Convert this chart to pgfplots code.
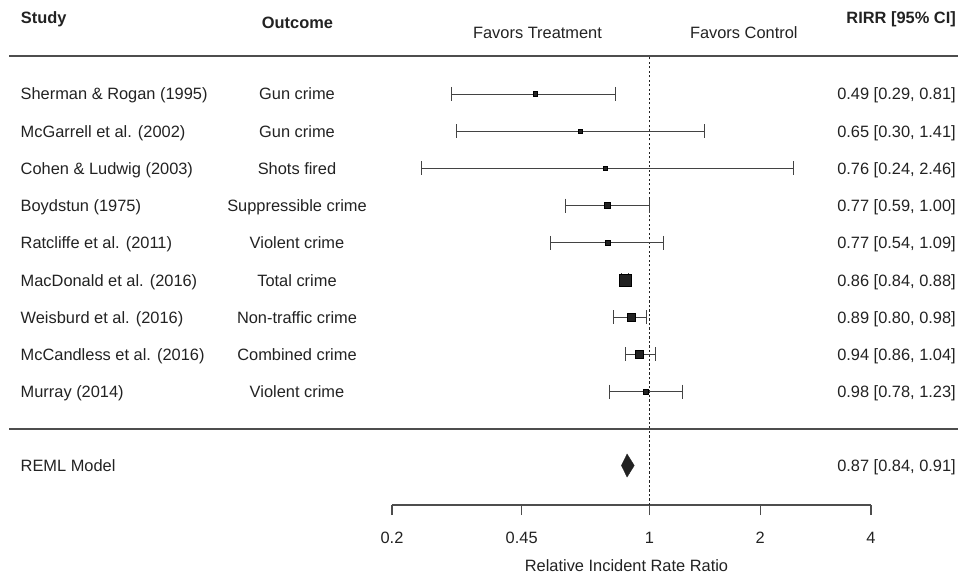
\documentclass[border=0pt]{standalone}
\usepackage{fontspec}
\setmainfont{Liberation Sans}
\usepackage{pgfplots}
\pgfplotsset{compat=1.18}
\definecolor{ink}{HTML}{222222}
\definecolor{rulec}{HTML}{4D4D4D}
\newcommand{\fs}{\fontsize{16.4}{19}\selectfont}
\begin{document}
\begin{tikzpicture}[
  txt/.style={font=\fs, inner sep=0pt, text=ink},
  stl/.style={txt, anchor=base west, xshift=-371.5pt, yshift=-6pt},
  otc/.style={txt, anchor=base, xshift=-95pt, yshift=-6pt},
  cit/.style={txt, anchor=base east, xshift=564pt, yshift=-6pt}]
\begin{axis}[
  at={(392pt,71pt)}, anchor=south west,
  scale only axis, width=479pt, height=449pt,
  xmode=log, xmin=0.2, xmax=4, ymin=-2.048, ymax=10.0215,
  clip=false,
  axis x line*=bottom, axis y line=none, ytick=\empty,
  x axis line style={rulec, line width=1.1pt, -},
  xtick={0.2,0.45,1,2,4}, xticklabels={0.2,0.45,1,2,4},
  minor xtick={},
  tick align=outside, major tick length=10pt,
  tick style={rulec, line width=1.1pt},
  xticklabel style={font=\fs, text=ink, yshift=-13.5pt},
  xlabel={Relative Incident Rate Ratio},
  xlabel style={font=\fs, text=ink, at={(axis description cs:0.5,0)}, anchor=base, yshift=-66pt, xshift=-5pt, inner sep=0pt},
  ci/.style={ink!85, line width=0.9pt, mark=|, mark size=7pt, mark options={solid, line width=0.9pt}},
  est/.style={only marks, mark=square*, mark options={fill=ink, draw=none}},
]
% reference line at 1
\addplot[ink, line width=0.9pt, dash pattern=on 2.2pt off 2.3pt] coordinates {(1,-2.048) (1,10.0215)};
% confidence intervals
\addplot[ci] coordinates {(0.29,9) (0.81,9)};
\addplot[ci] coordinates {(0.30,8) (1.41,8)};
\addplot[ci] coordinates {(0.24,7) (2.46,7)};
\addplot[ci] coordinates {(0.59,6) (1.00,6)};
\addplot[ci] coordinates {(0.54,5) (1.09,5)};
\addplot[ci] coordinates {(0.84,4) (0.88,4)};
\addplot[ci] coordinates {(0.80,3) (0.98,3)};
\addplot[ci] coordinates {(0.86,2) (1.04,2)};
\addplot[ci] coordinates {(0.78,1) (1.23,1)};
% point estimates
\addplot[est, mark size=2.4pt] coordinates {(0.49,9)};
\addplot[est, mark size=1.9pt] coordinates {(0.65,8)};
\addplot[est, mark size=1.8pt] coordinates {(0.76,7)};
\addplot[est, mark size=3.0pt] coordinates {(0.77,6)};
\addplot[est, mark size=2.5pt] coordinates {(0.77,5)};
\addplot[est, mark size=5.9pt] coordinates {(0.86,4)};
\addplot[est, mark size=4.0pt] coordinates {(0.89,3)};
\addplot[est, mark size=3.9pt] coordinates {(0.94,2)};
\addplot[est, mark size=2.5pt] coordinates {(0.98,1)};
% pooled estimate
\addplot[fill=ink, draw=ink, line width=0.4pt] coordinates {(0.84,-0.987) (0.87,-0.678) (0.91,-0.987) (0.87,-1.296)} -- cycle;
% separators
\draw[rulec, line width=1.1pt] ([xshift=-382.5pt]axis cs:0.2,10.0215) -- ([xshift=566pt]axis cs:0.2,10.0215);
\draw[rulec, line width=1.1pt] ([xshift=-382.5pt]axis cs:0.2,-0.005) -- ([xshift=566pt]axis cs:0.2,-0.005);
% headers
\node[txt, font=\fs\bfseries, anchor=base west, xshift=-371.3pt, yshift=32pt] at (axis cs:0.2,10.0215) {Study};
\node[txt, font=\fs\bfseries, anchor=base, xshift=-94.5pt, yshift=27.7pt] at (axis cs:0.2,10.0215) {Outcome};
\node[txt, font=\fs\bfseries, anchor=base east, xshift=564pt, yshift=32pt] at (axis cs:0.2,10.0215) {RIRR [95\% CI]};
\node[txt, anchor=base, xshift=145.5pt, yshift=17.7pt] at (axis cs:0.2,10.0215) {Favors Treatment};
\node[txt, anchor=base, xshift=351.8pt, yshift=17.7pt] at (axis cs:0.2,10.0215) {Favors Control};
% study rows
\node[stl] at (axis cs:0.2,9) {Sherman \& Rogan (1995)};
\node[stl] at (axis cs:0.2,8) {McGarrell et al. (2002)};
\node[stl] at (axis cs:0.2,7) {Cohen \& Ludwig (2003)};
\node[stl] at (axis cs:0.2,6) {Boydstun (1975)};
\node[stl] at (axis cs:0.2,5) {Ratcliffe et al. (2011)};
\node[stl] at (axis cs:0.2,4) {MacDonald et al. (2016)};
\node[stl] at (axis cs:0.2,3) {Weisburd et al. (2016)};
\node[stl] at (axis cs:0.2,2) {McCandless et al. (2016)};
\node[stl] at (axis cs:0.2,1) {Murray (2014)};
\node[stl] at (axis cs:0.2,-0.987) {REML Model};
\node[otc] at (axis cs:0.2,9) {Gun crime};
\node[otc] at (axis cs:0.2,8) {Gun crime};
\node[otc] at (axis cs:0.2,7) {Shots fired};
\node[otc] at (axis cs:0.2,6) {Suppressible crime};
\node[otc] at (axis cs:0.2,5) {Violent crime};
\node[otc] at (axis cs:0.2,4) {Total crime};
\node[otc] at (axis cs:0.2,3) {Non-traffic crime};
\node[otc] at (axis cs:0.2,2) {Combined crime};
\node[otc] at (axis cs:0.2,1) {Violent crime};
\node[cit] at (axis cs:0.2,9) {0.49 [0.29, 0.81]};
\node[cit] at (axis cs:0.2,8) {0.65 [0.30, 1.41]};
\node[cit] at (axis cs:0.2,7) {0.76 [0.24, 2.46]};
\node[cit] at (axis cs:0.2,6) {0.77 [0.59, 1.00]};
\node[cit] at (axis cs:0.2,5) {0.77 [0.54, 1.09]};
\node[cit] at (axis cs:0.2,4) {0.86 [0.84, 0.88]};
\node[cit] at (axis cs:0.2,3) {0.89 [0.80, 0.98]};
\node[cit] at (axis cs:0.2,2) {0.94 [0.86, 1.04]};
\node[cit] at (axis cs:0.2,1) {0.98 [0.78, 1.23]};
\node[cit] at (axis cs:0.2,-0.987) {0.87 [0.84, 0.91]};
\end{axis}
\pgfresetboundingbox
\path[use as bounding box] (0,0) rectangle (958pt,576pt);
\end{tikzpicture}
\end{document}
